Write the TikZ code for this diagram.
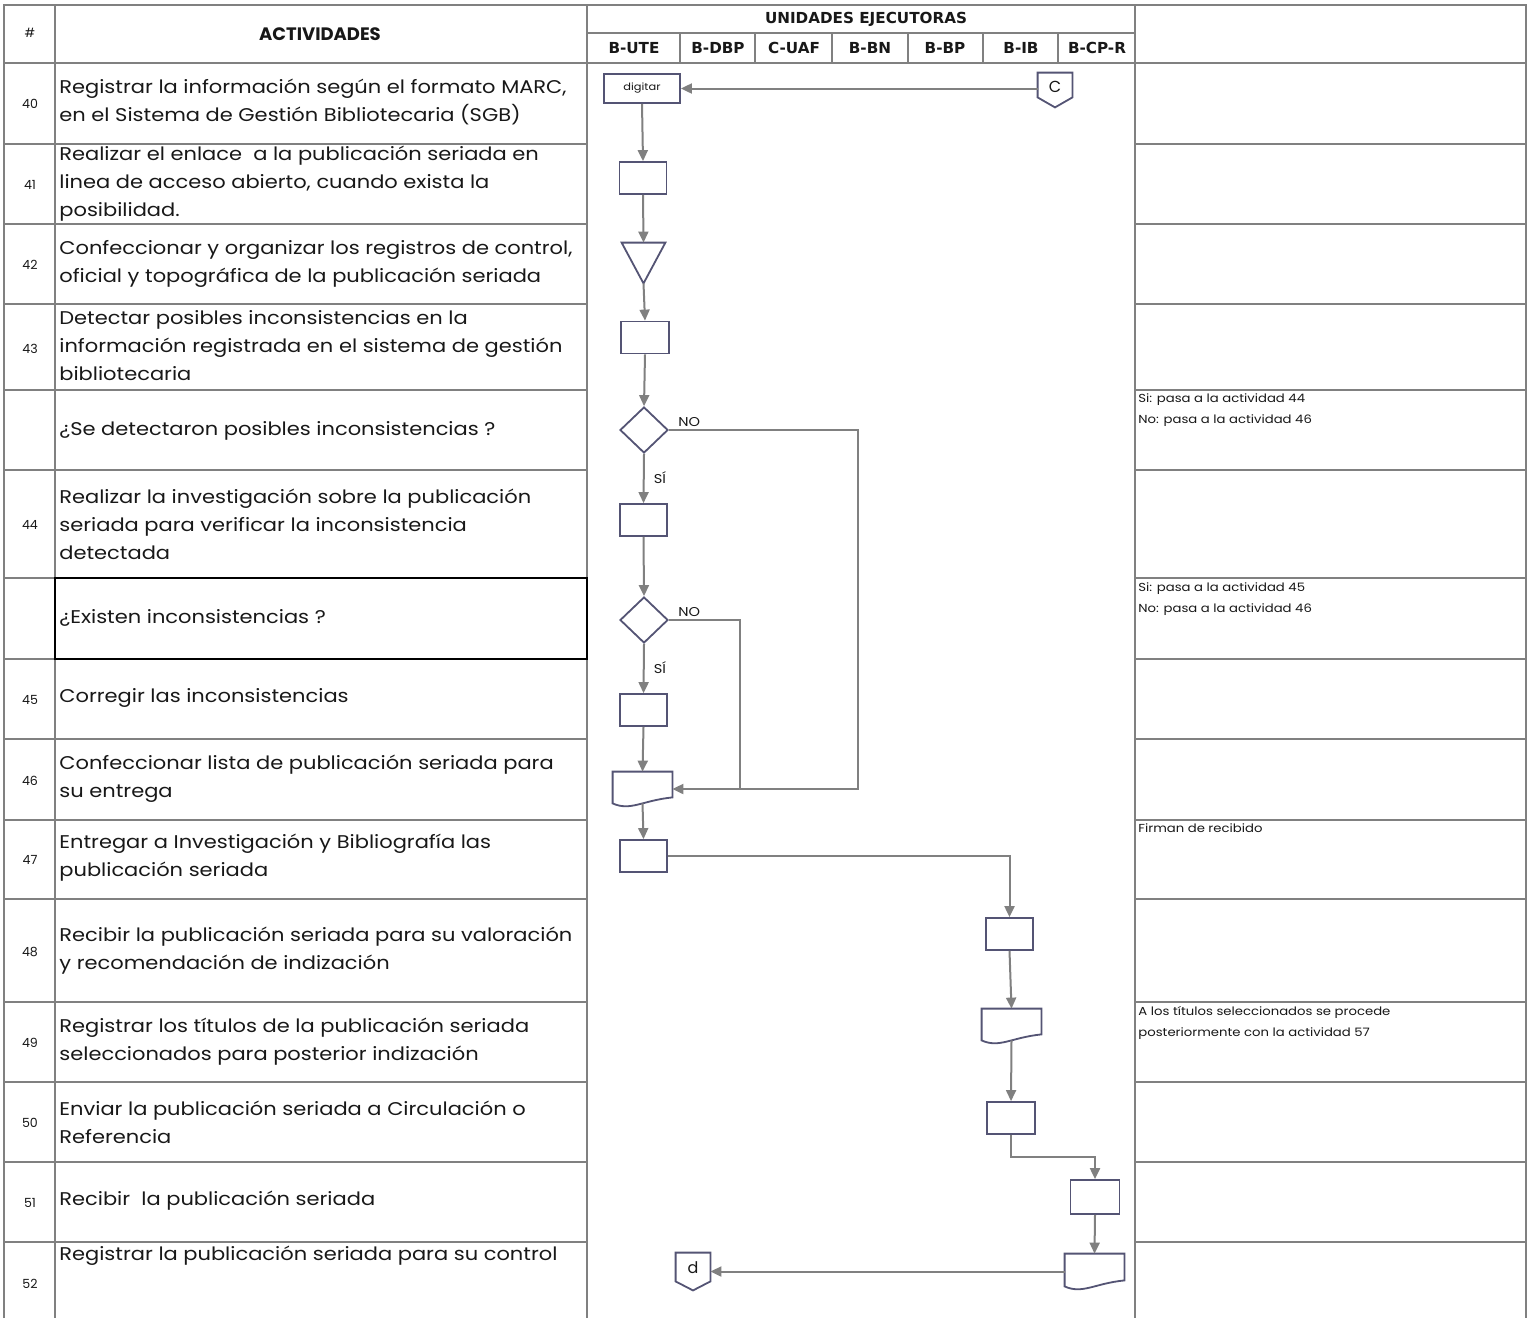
\documentclass[tikz,border=0pt]{standalone}
\usepackage{fontspec}
\setmainfont{Poppins}
\newfontfamily\wideff[FakeStretch=1.14]{Poppins}
\newfontfamily\hdfont{DejaVu Sans}
\usetikzlibrary{arrows.meta,shapes.geometric,calc}
\definecolor{gridc}{RGB}{128,128,128}
\definecolor{shpc}{RGB}{84,84,116}
\definecolor{conc}{RGB}{128,128,128}
\definecolor{txtc}{RGB}{24,24,24}
\newcommand\actfont{\wideff\fontsize{9.2}{14}\selectfont}
\newcommand\numfont{\fontsize{6.3}{8}\selectfont}
\newcommand\notefont{\wideff\fontsize{5.8}{10.5}\selectfont}
\newcommand\unitfont{\hdfont\bfseries\fontsize{7.6}{9}\selectfont}
\begin{document}
\begin{tikzpicture}[x=0.5pt,y=-0.5pt,
  gridln/.style={draw=gridc,line width=1.2pt},
  proc/.style={draw=shpc,line width=0.9pt,fill=white,minimum width=23.5pt,minimum height=16pt,inner sep=0pt},
  ghost/.style={inner sep=0pt},
  shp/.style={draw=shpc,line width=0.9pt,fill=white,line join=miter},
  conn/.style={draw=conc,line width=1pt},
  arr/.style={conn,-{Triangle[length=5.5pt,width=5pt]}},
  act/.style={anchor=west,align=left,font=\actfont,inner sep=0pt,text=txtc},
  num/.style={font=\numfont,inner sep=0pt,text=txtc},
  note/.style={anchor=north west,align=left,font=\notefont,inner sep=0pt,text=txtc},
  unit/.style={font=\unitfont,inner sep=0pt,text=txtc},
  lbl/.style={font=\wideff\fontsize{6.4}{8}\selectfont,inner sep=0pt,text=txtc}]
\useasboundingbox (0,0) rectangle (1530,1318);
\fill[white] (0,0) rectangle (1530,1318);

% ---------- grid ----------
\draw[gridln] (4,1318) -- (4,5) -- (1526,5) -- (1526,1318);
\draw[gridln] (4,63) -- (1526,63);
\draw[gridln] (587,33) -- (1135,33);
\foreach \xx in {55,587,1135} \draw[gridln] (\xx,5) -- (\xx,1318);
\foreach \xx in {680,755,832,908,983,1058} \draw[gridln] (\xx,33) -- (\xx,63);
\foreach \yy in {144,224,304,390,470,578,659,739,820,899,1002,1082,1162,1242}{
  \draw[gridln] (4,\yy) -- (587,\yy);
  \draw[gridln] (1135,\yy) -- (1526,\yy);
}
\draw[black,line width=1.2pt] (55,578) rectangle (587,659);

% ---------- header ----------
\node[num] (hnum) at (30,33) {\#};
\node[font=\bfseries\fontsize{9}{10}\selectfont,inner sep=0pt,text=txtc] (hact) at (320,34) {ACTIVIDADES};
\node[unit] (hunits) at (866,19) {UNIDADES EJECUTORAS};
\node[unit] (u1) at (634,48) {B-UTE};
\node[unit] (u2) at (718,48) {B-DBP};
\node[unit] (u3) at (794,48) {C-UAF};
\node[unit] (u4) at (870,48) {B-BN};
\node[unit] (u5) at (945,48) {B-BP};
\node[unit] (u6) at (1021,48) {B-IB};
\node[unit] (u7) at (1097,48) {B-CP-R};

% ---------- numbers ----------
\node[num] (n40) at (30,104) {40};
\node[num] (n41) at (30,185) {41};
\node[num] (n42) at (30,265) {42};
\node[num] (n43) at (30,349) {43};
\node[num] (n44) at (30,525) {44};
\node[num] (n45) at (30,700) {45};
\node[num] (n46) at (30,781) {46};
\node[num] (n47) at (30,860) {47};
\node[num] (n48) at (30,952) {48};
\node[num] (n49) at (30,1043) {49};
\node[num] (n50) at (30,1123) {50};
\node[num] (n51) at (30,1203) {51};
\node[num] (n52) at (30,1284) {52};

% ---------- activities ----------
\node[act] (a40) at (59,102) {Registrar la información según el formato MARC,\\en el Sistema de Gestión Bibliotecaria (SGB)};
\node[act] (a41) at (59,184) {Realizar el enlace\ \ a la publicación seriada en\\linea de acceso abierto, cuando exista la\\posibilidad.};
\node[act] (a42) at (59,264) {Confeccionar y organizar los registros de control,\\oficial y topográfica de la publicación seriada};
\node[act] (a43) at (59,346) {Detectar posibles inconsistencias en la\\información registrada en el sistema de gestión\\bibliotecaria};
\node[act] (ad1) at (59,431) {¿Se detectaron posibles inconsistencias ?};
\node[act] (a44) at (59,524) {Realizar la investigación sobre la publicación\\seriada para verificar la inconsistencia\\detectada};
\node[act] (ad2) at (59,618) {¿Existen inconsistencias ?};
\node[act] (a45) at (59,698) {Corregir las inconsistencias};
\node[act] (a46) at (59,779) {Confeccionar lista de publicación seriada para\\su entrega};
\node[act] (a47) at (59,858) {Entregar a Investigación y Bibliografía las\\publicación seriada};
\node[act] (a48) at (59,951) {Recibir la publicación seriada para su valoración\\y recomendación de indización};
\node[act] (a49) at (59,1042) {Registrar los títulos de la publicación seriada\\seleccionados para posterior indización};
\node[act] (a50) at (59,1122) {Enviar la publicación seriada a Circulación o\\Referencia};
\node[act] (a51) at (59,1201) {Recibir\ \ la publicación seriada};
\node[act] (a52) at (59,1256) {Registrar la publicación seriada para su control};

% ---------- notes ----------
\node[note] (nt1) at (1138,393) {Si: pasa a la actividad 44\\No: pasa a la actividad 46};
\node[note] (nt2) at (1138,582) {Si: pasa a la actividad 45\\No: pasa a la actividad 46};
\node[note] (nt3) at (1138,823) {Firman de recibido};
\node[note] (nt4) at (1138,1006) {A los títulos seleccionados se procede\\posteriormente con la actividad 57};

% ---------- flow shapes ----------
\node[proc,minimum width=38pt,minimum height=14.5pt,font=\wideff\fontsize{5}{6}\selectfont,text=txtc] (dig) at (642,88.5) {digitar};

\node[ghost,minimum width=17pt,minimum height=17pt] (cC) at (1055,90) {};
\draw[shp] (cC.north west) -- (cC.north east) -- ($(cC.south east)+(0,-10)$) -- (cC.south) -- ($(cC.south west)+(0,-10)$) -- cycle;
\node[font=\fontsize{8}{9}\selectfont,inner sep=0pt,text=txtc] (cCt) at (1055,87) {C};

\node[proc] (b41) at (643,178) {};

\node[ghost,minimum width=21.5pt,minimum height=20pt] (t42) at (643.5,263) {};
\draw[shp] (t42.north west) -- (t42.north east) -- (t42.south) -- cycle;

\node[proc,minimum width=24pt] (b43) at (645,337.5) {};
\node[diamond,draw=shpc,line width=0.9pt,fill=white,minimum width=24pt,minimum height=23pt,inner sep=0pt] (dia1) at (644,430) {};
\node[proc] (b44) at (643.5,520) {};
\node[diamond,draw=shpc,line width=0.9pt,fill=white,minimum width=24pt,minimum height=23pt,inner sep=0pt] (dia2) at (644,620) {};
\node[proc] (b45) at (643.5,710) {};

\node[ghost,minimum width=29.5pt,minimum height=17pt] (doc46) at (642.5,789) {};
\draw[shp] (doc46.north west) -- ($(doc46.south west)+(0,-3)$) .. controls ($(doc46.south west)+(18,5)$) and ($(doc46.south east)+(-30,-6)$) .. ($(doc46.south east)+(0,-9)$) -- (doc46.north east) -- cycle;

\node[proc] (b47) at (643.5,856) {};
\node[proc] (b48) at (1009.5,934) {};

\node[ghost,minimum width=29.5pt,minimum height=17pt] (doc49) at (1011.5,1026) {};
\draw[shp] (doc49.north west) -- ($(doc49.south west)+(0,-3)$) .. controls ($(doc49.south west)+(18,5)$) and ($(doc49.south east)+(-30,-6)$) .. ($(doc49.south east)+(0,-9)$) -- (doc49.north east) -- cycle;

\node[proc,minimum width=24pt] (b50) at (1011,1118) {};
\node[proc,minimum width=24.5pt,minimum height=17pt] (b51) at (1095,1197) {};

\node[ghost,minimum width=29.5pt,minimum height=17.5pt] (doc52) at (1094.5,1271.5) {};
\draw[shp] (doc52.north west) -- ($(doc52.south west)+(0,-3)$) .. controls ($(doc52.south west)+(18,5)$) and ($(doc52.south east)+(-30,-6)$) .. ($(doc52.south east)+(0,-9)$) -- (doc52.north east) -- cycle;

\node[ghost,minimum width=17pt,minimum height=18.5pt] (cd) at (693,1271.5) {};
\draw[shp] (cd.north west) -- (cd.north east) -- ($(cd.south east)+(0,-9)$) -- (cd.south) -- ($(cd.south west)+(0,-9)$) -- cycle;
\node[font=\fontsize{8}{9}\selectfont,inner sep=0pt,text=txtc] (cdt) at (693,1268) {d};

% ---------- labels ----------
\node[lbl,anchor=west] (no1) at (678,422) {NO};
\node[lbl] (si1) at (660,478) {SÍ};
\node[lbl,anchor=west] (no2) at (678,612) {NO};
\node[lbl] (si2) at (660,668) {SÍ};

% ---------- connectors ----------
\coordinate (j1) at (858,789);
\coordinate (j2) at (740,789);
\draw[arr] (dig.east -| cC.west) -- (dig.east);
\draw[arr] (dig.south) -- (b41.north);
\draw[arr] (b41.south) -- (t42.north);
\draw[arr] (t42.south) -- (b43.north);
\draw[arr] (b43.south) -- (dia1.north);
\draw[arr] (dia1.south) -- (b44.north);
\draw[arr] (b44.south) -- (dia2.north);
\draw[arr] (dia2.south) -- (b45.north);
\draw[arr] (b45.south) -- (doc46.north);
\draw[arr] (dia1.east) -| (j1) -- (doc46.east);
\draw[conn] (dia2.east) -| (j2);
\draw[arr] ($(doc46.south)+(0,-3)$) -- (b47.north);
\draw[arr] (b47.east) -| (b48.north);
\draw[arr] (b48.south) -- (doc49.north);
\draw[arr] ($(doc49.south)+(0,-3)$) -- (b50.north);
\draw[arr] (b50.south) |- ($(b50.south)!0.5!(b51.north)$) -| (b51.north);
\draw[arr] (b51.south) -- (doc52.north);
\draw[arr] (doc52.west) -- (doc52.west -| cd.east);
\end{tikzpicture}
\end{document}
